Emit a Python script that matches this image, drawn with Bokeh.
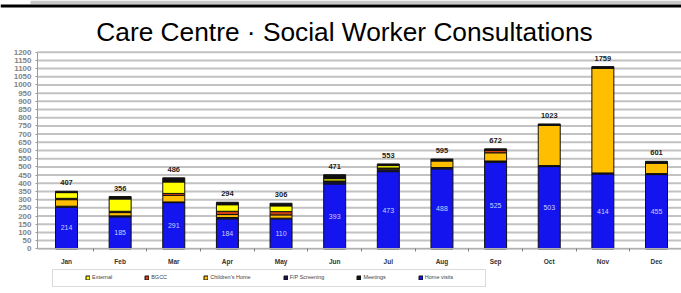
from bokeh.plotting import figure
from bokeh.models import (ColumnDataSource, Range1d, FixedTicker, Legend, LegendItem,
                          BoxAnnotation, Label, Span)
from bokeh.embed import file_html
from bokeh.resources import INLINE
from bokeh.core.properties import value

months = ["Jan", "Feb", "Mar", "Apr", "May", "Jun", "Jul", "Aug", "Sep", "Oct", "Nov", "Dec"]
home_visits    = [254, 195, 282, 183, 183, 396, 471, 488, 528, 502, 457, 453]
fp_screening   = [6, 6, 4, 8, 4, 14, 12, 8, 8, 6, 6, 6]
childrens_home = [40, 20, 40, 18, 20, 4, 10, 40, 50, 246, 641, 65]
bgcc           = [8, 8, 12, 20, 20, 0, 0, 4, 16, 0, 0, 0]
external       = [35, 75, 70, 40, 35, 14, 15, 0, 0, 0, 0, 0]
meetings       = [8, 15, 25, 15, 16, 24, 10, 8, 8, 8, 8, 10]
total_labels = ["407", "356", "486", "294", "306", "471", "553", "595", "672", "1023", "1759", "601"]
home_labels  = ["214", "185", "291", "184", "110", "393", "473", "488", "525", "503", "414", "455"]
y_ticks = list(range(0, 1201, 50))
series_names  = ["Home visits", "F/P Screening", "Children's Home", "BGCC", "External", "Meetings"]
series_colors = ["#1414ee", "#141450", "#ffbf00", "#d04010", "#ffff00", "#101010"]
legend_order  = ["External", "BGCC", "Children's Home", "F/P Screening", "Meetings", "Home visits"]
title_text = "Care Centre \u00b7 Social Worker Consultations"

x = list(range(len(months)))
series_values = [home_visits, fp_screening, childrens_home, bgcc, external, meetings]
totals = [sum(v) for v in zip(*series_values)]

data = {"x": x, "total": totals, "total_label": total_labels,
        "home_mid": [h / 2 for h in home_visits], "home_label": home_labels}
for name, vals in zip(series_names, series_values):
    data[name] = vals
src = ColumnDataSource(data)

W, H = 681, 293
PX_X = 53.636                   # pixels per category step
PX_Y = 196.6 / 1200             # pixels per value unit
X0 = -66 / PX_X
X1 = 11 + (W - 656) / PX_X
Y0 = -(H - 248.3) / PX_Y
Y1 = 1200 + 51.7 / PX_Y
AXIS_X = X0 + 37 / PX_X         # where the value axis stands

p = figure(width=W, height=H, output_backend="svg", toolbar_location=None,
           x_range=Range1d(X0, X1), y_range=Range1d(Y0, Y1),
           min_border_left=0, min_border_right=0, min_border_top=0, min_border_bottom=0)
p.outline_line_color = None
p.xgrid.grid_line_color = None
p.ygrid.grid_line_color = None

# horizontal grid lines starting at the value axis
p.segment(x0=[AXIS_X] * len(y_ticks), x1=[X1] * len(y_ticks), y0=y_ticks, y1=y_ticks,
          line_color="#c2c2c2", line_width=2)

renderers = p.vbar_stack(series_names, x="x", width=0.41, source=src,
                         color=series_colors, line_color="#101010", line_width=1)

p.text(x="x", y="total", text="total_label", source=src, text_align="center",
       text_baseline="bottom", y_offset=-6, text_font=value("Liberation Sans"),
       text_font_size="7.5px", text_font_style="bold", text_color="#222222")
p.text(x="x", y="home_mid", text="home_label", source=src, text_align="center",
       text_baseline="middle", text_font=value("Liberation Sans"),
       text_font_size="7px", text_color="#c8d0ff")

p.yaxis.fixed_location = AXIS_X
p.yaxis.bounds = (0, 1200)
p.yaxis.ticker = FixedTicker(ticks=y_ticks)
p.yaxis.major_label_text_font = "Liberation Sans"
p.yaxis.major_label_text_font_size = "8px"
p.yaxis.major_label_text_font_style = "bold"
p.yaxis.major_label_text_color = "#858585"
p.yaxis.major_label_standoff = 4
p.yaxis.axis_line_color = "#9a9a9a"
p.yaxis.major_tick_line_color = "#9a9a9a"
p.yaxis.major_tick_out = 2
p.yaxis.major_tick_in = 0
p.yaxis.minor_tick_line_color = None

p.xaxis.fixed_location = 0
p.xaxis.bounds = (AXIS_X, X1)
p.xaxis.ticker = FixedTicker(ticks=x, minor_ticks=[i + 0.5 for i in x[:-1]])
p.xaxis.major_label_overrides = {i: m for i, m in zip(x, months)}
p.xaxis.major_label_text_font = "Liberation Sans"
p.xaxis.major_label_text_font_size = "6.5px"
p.xaxis.major_label_text_font_style = "bold"
p.xaxis.major_label_text_color = "#333333"
p.xaxis.major_label_standoff = 6
p.xaxis.axis_line_color = "#b0b0b0"
p.xaxis.major_tick_line_color = None
p.xaxis.major_tick_out = 0
p.xaxis.major_tick_in = 0
p.xaxis.minor_tick_line_color = "#808080"
p.xaxis.minor_tick_out = 3
p.xaxis.minor_tick_in = 0

# top edge decoration
p.add_layout(BoxAnnotation(left=30, right=W, bottom=H - 3.5, top=H,
                           left_units="screen", right_units="screen",
                           bottom_units="screen", top_units="screen",
                           fill_color="#c8c8c8", fill_alpha=1, line_alpha=0))
p.add_layout(Span(location=H - 5.5, location_units="screen", dimension="width",
                  line_color="#000000", line_width=3))

p.add_layout(Label(x=344, y=H - 31, x_units="screen", y_units="screen", text=title_text,
                   text_align="center", text_baseline="alphabetic",
                   text_font="Liberation Sans", text_font_size="26.3px",
                   text_color="#000000"))

p.add_layout(BoxAnnotation(left=52, right=485, bottom=H - 286, top=H - 269,
                           left_units="screen", right_units="screen",
                           bottom_units="screen", top_units="screen",
                           fill_alpha=0, line_color="#888888", line_width=1))

rmap = dict(zip(series_names, renderers))
legend = Legend(items=[LegendItem(label=n, renderers=[rmap[n]]) for n in legend_order],
                orientation="horizontal", location=(81, H - 285),
                glyph_width=5, glyph_height=5, label_standoff=2, spacing=32,
                padding=4, label_height=8, label_text_font_size="5.5px",
                label_text_font="Liberation Sans", border_line_alpha=0,
                background_fill_alpha=0)
p.add_layout(legend)

html = file_html(p, INLINE)
html = html.replace("<head>", "<head><style>html, body { overflow: hidden; }</style>", 1)
open("out.html", "w").write(html)
